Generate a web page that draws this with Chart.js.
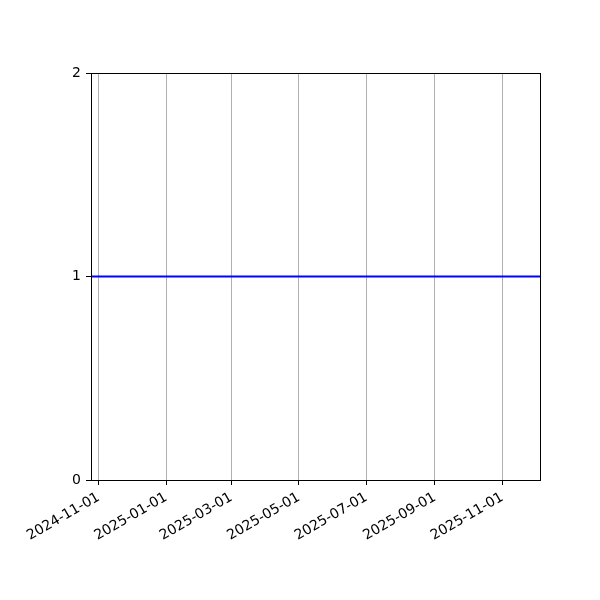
<!DOCTYPE html>
<html>
<head>
<meta charset="utf-8">
<script src="https://cdn.jsdelivr.net/npm/chart.js@4"></script>
<style>
  html, body { margin: 0; padding: 0; background: #fff; }
</style>
</head>
<body>
<canvas id="myChart" width="600" height="600"></canvas>
<script>
const ctx = document.getElementById('myChart').getContext('2d');

// axis range and ticks (dates)
const xStart = '2024-10-25';
const xEnd = '2025-12-05';
const xTickDates = [
    '2024-11-01',
    '2025-01-01',
    '2025-03-01',
    '2025-05-01',
    '2025-07-01',
    '2025-09-01',
    '2025-11-01',
];
const yTicks = [0, 1, 2];

// horizontal line at y = 1 across the whole axis
const lineDates = [xStart, xEnd];
const lineValues = [1, 1];

const toMs = d => Date.parse(d + 'T00:00:00Z');
const pad2 = n => String(n).padStart(2, '0');
const fmtDate = ms => {
    const d = new Date(ms);
    return d.getUTCFullYear() + '-' + pad2(d.getUTCMonth() + 1) + '-' + pad2(d.getUTCDate());
};

// top and right spines
const frame = {
    id: 'frame',
    afterDraw(chart) {
        const a = chart.chartArea;
        const c = chart.ctx;
        c.save();
        c.strokeStyle = '#000';
        c.lineWidth = 1;
        c.strokeRect(Math.round(a.left) + 0.5, Math.round(a.top) + 0.5,
            Math.round(a.right - a.left), Math.round(a.bottom - a.top));
        c.restore();
    }
};

const myChart = new Chart(ctx, {
    type: 'line',
    data: {
        datasets: [{
            data: lineDates.map((d, i) => ({ x: toMs(d), y: lineValues[i] })),
            borderColor: '#0000ff',
            borderWidth: 2,
            pointRadius: 0,
            fill: false
        }]
    },
    options: {
        responsive: false,
        animation: false,
        layout: { padding: { left: 0, right: 60, top: 73, bottom: 0 } },
        plugins: {
            legend: { display: false },
            tooltip: { enabled: false }
        },
        scales: {
            x: {
                type: 'linear',
                min: toMs(xStart),
                max: toMs(xEnd),
                afterBuildTicks: scale => {
                    scale.ticks = xTickDates.map(d => ({ value: toMs(d) }));
                },
                afterFit: scale => { scale.height = 120; },
                ticks: {
                    autoSkip: false,
                    minRotation: 30,
                    maxRotation: 30,
                    padding: 4,
                    color: '#000',
                    font: { family: 'DejaVu Sans', size: 14 },
                    callback: v => fmtDate(v)
                },
                grid: {
                    color: '#b0b0b0',
                    lineWidth: 1,
                    tickColor: '#000',
                    tickLength: 5
                },
                border: { color: '#000', width: 1 }
            },
            y: {
                min: 0,
                max: 2,
                afterBuildTicks: scale => {
                    scale.ticks = yTicks.map(v => ({ value: v }));
                },
                afterFit: scale => { scale.width = 91; },
                ticks: {
                    padding: 5,
                    color: '#000',
                    font: { family: 'DejaVu Sans', size: 14 }
                },
                grid: {
                    drawOnChartArea: false,
                    tickColor: '#000',
                    tickLength: 5
                },
                border: { color: '#000', width: 1 }
            }
        }
    },
    plugins: [frame]
});
</script>
</body>
</html>
